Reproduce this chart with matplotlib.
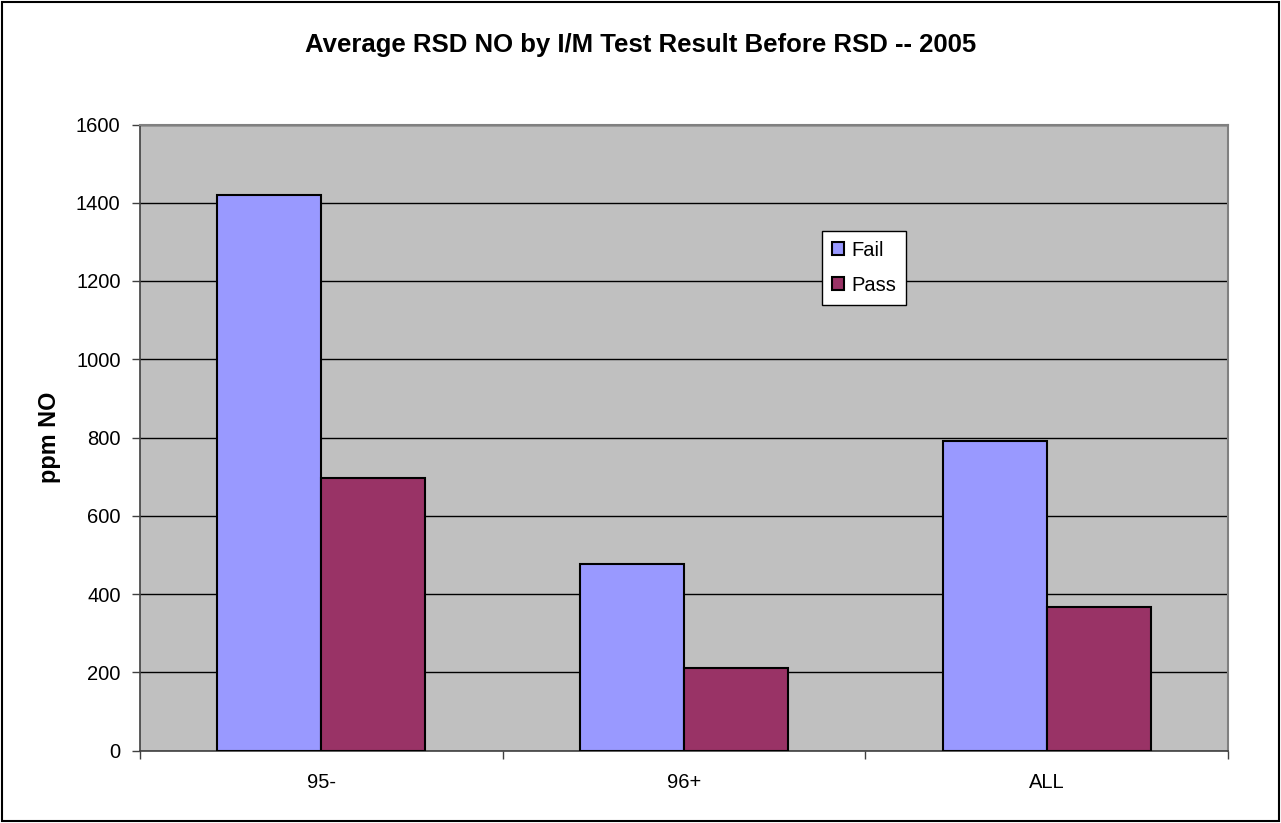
import matplotlib
matplotlib.use("Agg")
import matplotlib.pyplot as plt
import numpy as np
from matplotlib.patches import Rectangle

categories = ["95-", "96+", "ALL"]
fail = [1420, 476, 792]
pass_ = [696, 210, 368]
yticks = [0, 200, 400, 600, 800, 1000, 1200, 1400, 1600]

plt.rcParams['font.family'] = ['Liberation Sans', 'DejaVu Sans']

fig = plt.figure(figsize=(12.81, 8.23), dpi=100)
W, H = 1281, 823
ax = fig.add_axes([140 / W, 1 - 750.5 / H, (1228 - 140) / W, (750.5 - 124.5) / H])
ax.set_facecolor('#C0C0C0')

x = np.arange(len(categories))
bw = 0.287
ax.bar(x - bw / 2, fail, bw, color='#9999FF', edgecolor='black', linewidth=1.5, label='Fail', zorder=3)
ax.bar(x + bw / 2, pass_, bw, color='#993366', edgecolor='black', linewidth=1.5, label='Pass', zorder=3)

ax.set_xlim(-0.5, len(categories) - 0.5)
ax.set_ylim(0, 1600)
ax.set_yticks(yticks)
ax.set_yticklabels([str(v) for v in yticks], fontsize=14.5)
ax.yaxis.grid(True, color='black', linewidth=1, zorder=1)
ax.set_axisbelow(True)

ax.set_xticks(x)
ax.set_xticklabels(categories, fontsize=14.5)
ax.tick_params(axis='x', length=0, pad=16)
ax.set_xticks(np.arange(len(categories) + 1) - 0.5, minor=True)
ax.tick_params(axis='x', which='minor', length=6, color='#404040', width=1)
ax.tick_params(axis='y', length=6, color='#404040', width=1, pad=8)

for s in ['top', 'right']:
    ax.spines[s].set_color('#808080')
    ax.spines[s].set_linewidth(1.5)
for s in ['left', 'bottom']:
    ax.spines[s].set_color('#404040')
    ax.spines[s].set_linewidth(1.2)

ax.set_ylabel('ppm NO', fontsize=16.8, fontweight='bold', labelpad=11)

fig.text(0.5, 1 - 52 / H, 'Average RSD NO by I/M Test Result Before RSD -- 2005',
         ha='center', va='baseline', fontsize=18.5, fontweight='bold')

leg = ax.legend(loc='upper left', bbox_to_anchor=((821.7 - 140) / 1088, (750.5 - 230.7) / 626),
                fontsize=14.5, frameon=True, fancybox=False, borderaxespad=0,
                handlelength=0.6, handleheight=0.6, handletextpad=0.35,
                labelspacing=0.8, borderpad=0.5)
leg.get_frame().set_edgecolor('black')
leg.get_frame().set_linewidth(1)
leg.get_frame().set_facecolor('white')
leg.get_frame().set_alpha(1)

fig.patches.append(Rectangle((2 / W, 2 / H), 1 - 4 / W, 1 - 4 / H, transform=fig.transFigure,
                             fill=False, edgecolor='black', linewidth=1.5))

fig.savefig('out.png', dpi=100)
